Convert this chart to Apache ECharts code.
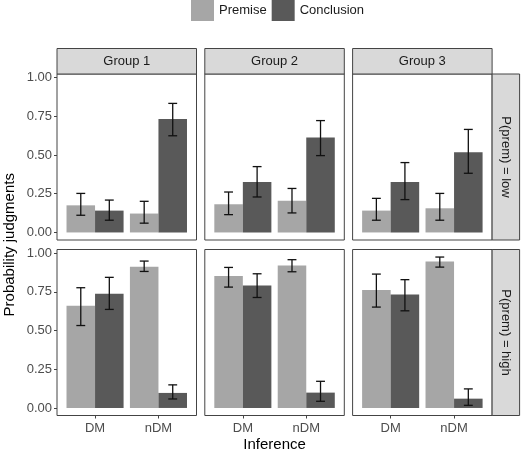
<!DOCTYPE html>
<html>
<head>
<meta charset="utf-8">
<script src="https://cdn.jsdelivr.net/npm/echarts@6/dist/echarts.min.js"></script>
<style>
  html, body { margin: 0; padding: 0; background: #fff; }
  #chart { width: 522px; height: 454px; }
</style>
</head>
<body>
<div id="chart"></div>
<script>
// facets and categories
var groups = ['Group 1', 'Group 2', 'Group 3'];
var rows = ['P(prem) = low', 'P(prem) = high'];
var inferences = ['DM', 'nDM'];
var yTicks = [0, 0.25, 0.5, 0.75, 1];

// values: [row][group][inference]
var premiseMean = [
  [[0.175, 0.122], [0.182, 0.205], [0.141, 0.156]],
  [[0.659, 0.912], [0.851, 0.920], [0.761, 0.946]]
];
var premiseLo = [
  [[0.111, 0.060], [0.115, 0.126], [0.079, 0.079]],
  [[0.532, 0.881], [0.780, 0.879], [0.651, 0.909]]
];
var premiseHi = [
  [[0.252, 0.201], [0.261, 0.284], [0.220, 0.252]],
  [[0.776, 0.948], [0.907, 0.957], [0.864, 0.974]]
];
var conclusionMean = [
  [[0.141, 0.733], [0.325, 0.613], [0.325, 0.517]],
  [[0.737, 0.097], [0.791, 0.099], [0.733, 0.060]]
];
var conclusionLo = [
  [[0.079, 0.624], [0.229, 0.496], [0.212, 0.382]],
  [[0.636, 0.058], [0.713, 0.043], [0.627, 0.017]]
];
var conclusionHi = [
  [[0.209, 0.833], [0.425, 0.722], [0.451, 0.665]],
  [[0.843, 0.149], [0.866, 0.172], [0.828, 0.123]]
];

var FONT = 'Liberation Sans, Arial, sans-serif';
var premiseColor = '#a6a6a6';
var conclusionColor = '#595959';
var lineColor = '#444';

var myChart = echarts.init(document.getElementById('chart'));

// panel layout
var colLeft = [57, 204.8, 352.6];
var colWidth = 139.5;
var rowTop = [74, 249.5];
var rowHeight = 166;
var stripH = 25.5;
var stripW = 27.5;

var grids = [], xAxes = [], yAxes = [], series = [], graphics = [];

// draw one bar + its error bar
function makeRender(side) {
  return function (params, api) {
    var cat = api.value(0);
    var x0 = side === 0 ? cat - 0.45 : cat;
    var x1 = x0 + 0.45;
    var xc = x0 + 0.225;
    var p0 = api.coord([x0, api.value(1)]);
    var p1 = api.coord([x1, 0]);
    var lo = api.coord([xc, api.value(2)]);
    var hi = api.coord([xc, api.value(3)]);
    var capL = api.coord([xc - 0.07, 0])[0];
    var capR = api.coord([xc + 0.07, 0])[0];
    var st = { stroke: '#111', lineWidth: 1.3 };
    return {
      type: 'group',
      children: [
        { type: 'rect', shape: { x: p0[0], y: p0[1], width: p1[0] - p0[0], height: p1[1] - p0[1] },
          style: { fill: api.visual('color') } },
        { type: 'line', shape: { x1: lo[0], y1: lo[1], x2: hi[0], y2: hi[1] }, style: st },
        { type: 'line', shape: { x1: capL, y1: lo[1], x2: capR, y2: lo[1] }, style: st },
        { type: 'line', shape: { x1: capL, y1: hi[1], x2: capR, y2: hi[1] }, style: st }
      ]
    };
  };
}

var idx = 0;
for (var r = 0; r < rows.length; r++) {
  for (var g = 0; g < groups.length; g++) {
    grids.push({
      left: colLeft[g], top: rowTop[r], width: colWidth, height: rowHeight,
      show: true, borderColor: lineColor, borderWidth: 1, backgroundColor: '#fff'
    });
    xAxes.push({
      type: 'value', gridIndex: idx, min: 0.4, max: 2.6,
      axisLine: { show: false, onZero: false },
      splitLine: { show: false },
      axisTick: { show: r === 1, length: 3, lineStyle: { color: lineColor }, customValues: [1, 2] },
      axisLabel: {
        show: r === 1, customValues: [1, 2], margin: 6,
        color: '#4d4d4d', fontSize: 13, fontFamily: FONT,
        formatter: function (v) { return inferences[Math.round(v) - 1]; }
      }
    });
    yAxes.push({
      type: 'value', gridIndex: idx, min: -0.0487, max: 1.0227,
      axisLine: { show: false, onZero: false },
      splitLine: { show: false },
      axisTick: { show: g === 0, length: 3, lineStyle: { color: lineColor }, customValues: yTicks },
      axisLabel: {
        show: g === 0, customValues: yTicks, margin: 5,
        color: '#4d4d4d', fontSize: 13, fontFamily: FONT,
        formatter: function (v) { return v.toFixed(2); }
      }
    });
    var pData = [], cData = [];
    for (var k = 0; k < inferences.length; k++) {
      pData.push([k + 1, premiseMean[r][g][k], premiseLo[r][g][k], premiseHi[r][g][k]]);
      cData.push([k + 1, conclusionMean[r][g][k], conclusionLo[r][g][k], conclusionHi[r][g][k]]);
    }
    series.push({
      name: 'Premise', type: 'custom', xAxisIndex: idx, yAxisIndex: idx,
      itemStyle: { color: premiseColor }, encode: { x: 0, y: 1 },
      renderItem: makeRender(0), data: pData
    });
    series.push({
      name: 'Conclusion', type: 'custom', xAxisIndex: idx, yAxisIndex: idx,
      itemStyle: { color: conclusionColor }, encode: { x: 0, y: 1 },
      renderItem: makeRender(1), data: cData
    });
    idx++;
  }
}

// top strips
for (var g = 0; g < groups.length; g++) {
  graphics.push({
    type: 'rect', shape: { x: colLeft[g], y: rowTop[0] - stripH, width: colWidth, height: stripH },
    style: { fill: '#d9d9d9', stroke: lineColor, lineWidth: 1 }
  });
  graphics.push({
    type: 'text', x: colLeft[g] + colWidth / 2, y: rowTop[0] - stripH / 2,
    style: { text: groups[g], align: 'center', verticalAlign: 'middle', fill: '#1a1a1a', fontSize: 13, fontFamily: FONT }
  });
}
// right strips
var rightX = colLeft[2] + colWidth;
for (var r = 0; r < rows.length; r++) {
  graphics.push({
    type: 'rect', shape: { x: rightX, y: rowTop[r], width: stripW, height: rowHeight },
    style: { fill: '#d9d9d9', stroke: lineColor, lineWidth: 1 }
  });
  graphics.push({
    type: 'text', x: rightX + stripW / 2, y: rowTop[r] + rowHeight / 2, rotation: -Math.PI / 2,
    style: { text: rows[r], align: 'center', verticalAlign: 'middle', fill: '#1a1a1a', fontSize: 13, fontFamily: FONT }
  });
}
// axis titles
graphics.push({
  type: 'text', x: 10, y: (rowTop[0] + rowTop[1] + rowHeight) / 2, rotation: Math.PI / 2,
  style: { text: 'Probability judgments', align: 'center', verticalAlign: 'middle', fill: '#000', fontSize: 15, fontFamily: FONT }
});
graphics.push({
  type: 'text', x: (colLeft[0] + rightX) / 2, y: 445,
  style: { text: 'Inference', align: 'center', verticalAlign: 'middle', fill: '#000', fontSize: 15, fontFamily: FONT }
});

var option = {
  animation: false,
  backgroundColor: '#fff',
  legend: {
    data: ['Premise', 'Conclusion'],
    left: 191, top: 0, padding: 0,
    icon: 'rect', itemWidth: 23, itemHeight: 21, itemGap: 5,
    textStyle: { color: '#1a1a1a', fontSize: 13, fontFamily: FONT }
  },
  grid: grids,
  xAxis: xAxes,
  yAxis: yAxes,
  series: series,
  graphic: graphics
};

myChart.setOption(option);
</script>
</body>
</html>
